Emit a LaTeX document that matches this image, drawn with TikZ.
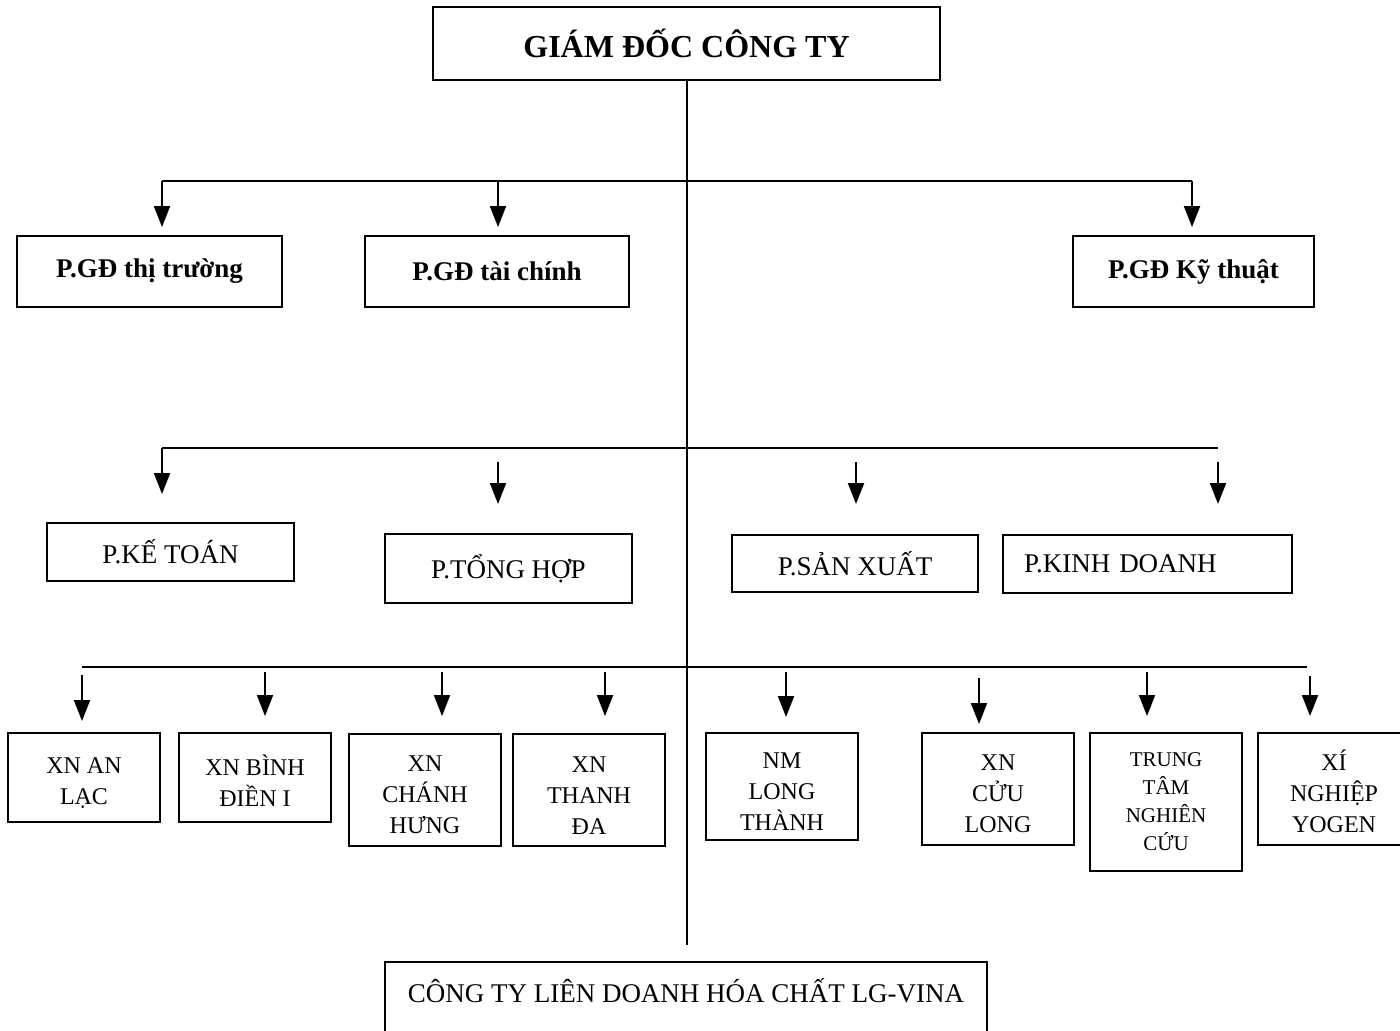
\documentclass[tikz,border=0pt]{standalone}
\usepackage{fontspec}
\setmainfont{Liberation Serif}
\usetikzlibrary{arrows.meta}
% strut that fixes the height of the first line in the unit boxes
\newcommand{\unitstrut}{\rule{0pt}{13pt}}

\begin{document}
\begin{tikzpicture}[x=0.5pt,y=-0.5pt,
  box/.style={draw, line width=1pt, inner sep=0pt, align=center},
  wire/.style={line width=1pt},
  arr/.style={line width=1pt, -{Triangle[width=8pt,length=10.5pt]}},
  fHead/.style={font=\fontsize{16}{19}\selectfont\bfseries},
  fBold/.style={font=\fontsize{13.5}{16}\selectfont\bfseries},
  fReg/.style={font=\fontsize{13.5}{16}\selectfont},
  fSmall/.style={font=\fontsize{12}{15.5}\selectfont},
  fTiny/.style={font=\fontsize{10.5}{14}\selectfont},
  unit/.style={box, fSmall, minimum width=76pt}]
\useasboundingbox (0,0) rectangle (1400,1030);
\fill[white] (0,0) rectangle (1400,1030);

% director
\node[box, fHead, minimum width=253.5pt, minimum height=36.5pt] (gd) at (686.5,43.5) {GIÁM ĐỐC CÔNG TY};

% deputy directors
\node[box, fBold, minimum width=132.5pt, minimum height=35.5pt] (pgdA) at (149.5,271.5) {P.GĐ thị trường};
\node[box, fBold, minimum width=132pt, minimum height=35.5pt] (pgdB) at (497,271.5) {P.GĐ tài chính};
\node[box, fBold, minimum width=120.5pt, minimum height=35.5pt] (pgdC) at (1193.5,271.5) {P.GĐ Kỹ thuật};

% departments
\node[box, fReg, minimum width=123.5pt, minimum height=29pt] (kt) at (170.5,552) {P.KẾ TOÁN};
\node[box, fReg, minimum width=123.5pt, minimum height=34.5pt] (th) at (508.5,568.5) {P.TỔNG HỢP};
\node[box, fReg, minimum width=123pt, minimum height=28.5pt] (sx) at (855,563.5) {P.SẢN XUẤT};
\node[box, fReg, align=left, inner xsep=10.5pt, text width=123.5pt, minimum height=29pt] (kd) at (1147.5,564) {P.KINH DOANH};

% units
\node[unit, minimum height=44.5pt] (u1) at (84,777.5) {\unitstrut XN AN\\LẠC};
\node[unit, minimum height=44.5pt] (u2) at (255,777.5) {\unitstrut XN BÌNH\\ĐIỀN I};
\node[unit, minimum height=56pt] (u3) at (425,790) {\unitstrut XN\\CHÁNH\\HƯNG};
\node[unit, minimum height=56pt] (u4) at (589,790) {\unitstrut XN\\THANH\\ĐA};
\node[unit, minimum height=53.5pt] (u5) at (782,786.5) {\unitstrut NM\\LONG\\THÀNH};
\node[unit, minimum height=56pt] (u6) at (998,789) {\unitstrut XN\\CỬU\\LONG};
\node[unit, fTiny, minimum height=69pt] (u7) at (1166,802) {TRUNG\\TÂM\\NGHIÊN\\CỨU};
\node[unit, minimum height=56pt] (u8) at (1334,789) {\unitstrut XÍ\\NGHIỆP\\YOGEN};

% joint venture
\node[box, fReg, anchor=base, text height=20pt, text depth=30pt, minimum width=301pt] (lg) at (686,1002) {CÔNG TY LIÊN DOANH HÓA CHẤT LG-VINA};

% main trunk
\coordinate (trunkEnd) at (686.5,945);
\draw[wire] (gd.south) -- (trunkEnd);

% bus to deputy directors
\coordinate (b2a) at (162,181);
\coordinate (b2b) at (498,181);
\coordinate (b2c) at (1192,181);
\draw[wire] (b2a) -- (b2c);
\draw[arr, shorten >=4pt] (b2a) -- (b2a |- pgdA.north);
\draw[arr, shorten >=4pt] (b2b) -- (b2b |- pgdB.north);
\draw[arr, shorten >=4pt] (b2c) -- (b2c |- pgdC.north);

% bus to departments
\coordinate (b3a) at (162,448);
\coordinate (b3e) at (1218,448);
\coordinate (s3b) at (498,462);
\coordinate (s3c) at (856,462);
\coordinate (s3d) at (1218,462);
\draw[wire] (b3a) -- (b3e);
\draw[arr, shorten >=14pt] (b3a) -- (b3a |- kt.north);
\draw[arr, shorten >=14.5pt] (s3b) -- (s3b |- th.north);
\draw[arr, shorten >=15pt] (s3c) -- (s3c |- sx.north);
\draw[arr, shorten >=15pt] (s3d) -- (s3d |- kd.north);

% bus to units
\coordinate (b4a) at (82,667);
\coordinate (b4e) at (1307,667);
\draw[wire] (b4a) -- (b4e);
\coordinate (s41) at (82,675);
\coordinate (s42) at (265,672);
\coordinate (s43) at (442,672);
\coordinate (s44) at (605,672);
\coordinate (s45) at (786,672);
\coordinate (s46) at (979,678);
\coordinate (s47) at (1147,672);
\coordinate (s48) at (1310,676);
\draw[arr, shorten >=5.5pt] (s41) -- (s41 |- u1.north);
\draw[arr, shorten >=8pt] (s42) -- (s42 |- u2.north);
\draw[arr, shorten >=8.5pt] (s43) -- (s43 |- u3.north);
\draw[arr, shorten >=8.5pt] (s44) -- (s44 |- u4.north);
\draw[arr, shorten >=7.5pt] (s45) -- (s45 |- u5.north);
\draw[arr, shorten >=4pt] (s46) -- (s46 |- u6.north);
\draw[arr, shorten >=8pt] (s47) -- (s47 |- u7.north);
\draw[arr, shorten >=8pt] (s48) -- (s48 |- u8.north);
\end{tikzpicture}
\end{document}
